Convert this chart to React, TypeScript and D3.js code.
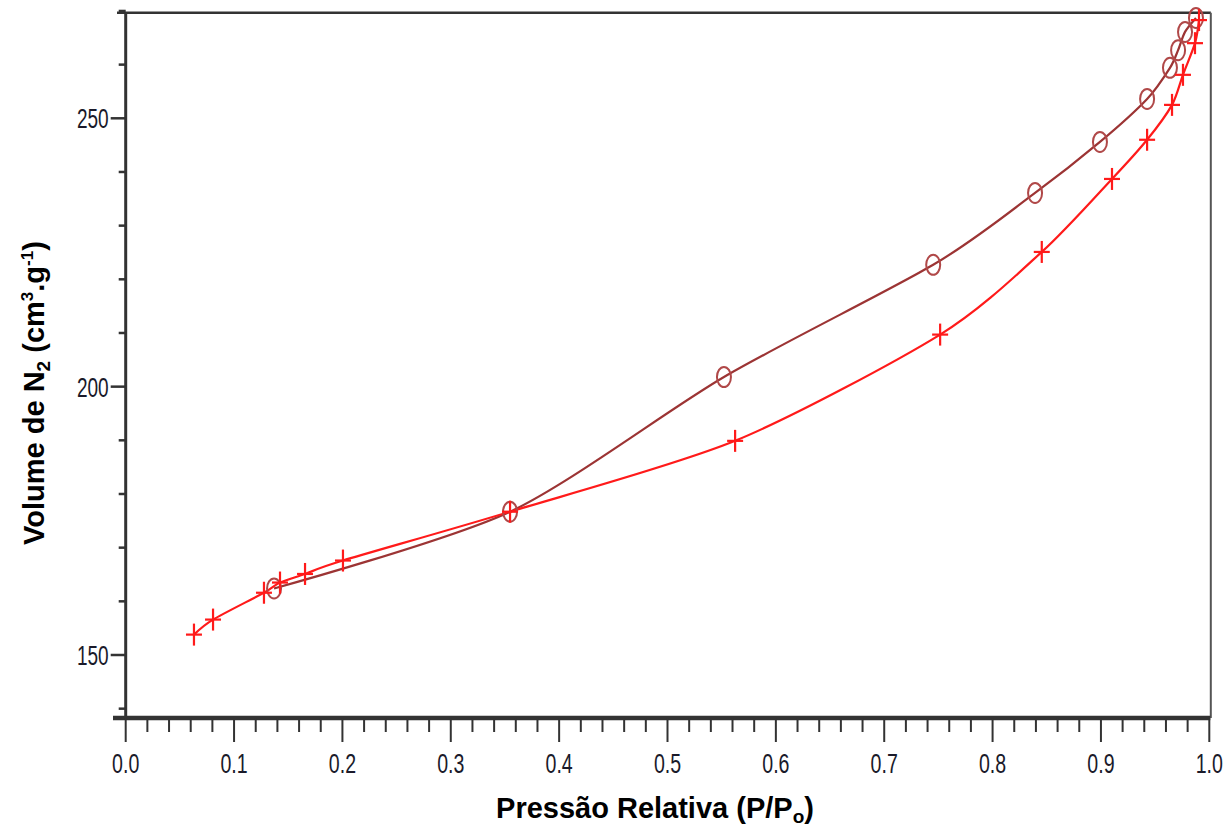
import React from "react";
import * as d3 from "d3";

// Relative pressure (P/Po) and adsorbed N2 volume (cm3/g)
const adsorptionP = [0.063, 0.0806, 0.1276, 0.1424, 0.1655, 0.2005, 0.3547, 0.5624, 0.7516, 0.8454, 0.9102, 0.9426, 0.9656, 0.9757, 0.9868, 0.9905];
const adsorptionV = [153.8, 156.6, 161.6, 163.5, 165.1, 167.6, 176.7, 189.9, 209.7, 225.1, 238.7, 246.0, 252.5, 258.1, 264.0, 268.3];

const desorptionP = [0.9877, 0.9776, 0.9712, 0.9637, 0.9426, 0.8991, 0.8392, 0.7452, 0.5521, 0.3547, 0.1369];
const desorptionV = [268.7, 266.1, 262.7, 259.4, 253.6, 245.6, 236.1, 222.7, 201.8, 176.7, 162.4];

const xMajorTicks = [0, 0.1, 0.2, 0.3, 0.4, 0.5, 0.6, 0.7, 0.8, 0.9, 1.0];
const yMajorTicks = [150, 200, 250];
const yMinorTicks = [140, 160, 170, 180, 190, 210, 220, 230, 240, 260, 270];

const W = 1231;
const H = 830;
const LEFT = 125.7;
const RIGHT = 1209.3;
const TOP = 12.7;
const BOTTOM = 718;

const RED = "#ff1a1a";
const BROWN_LINE = "#9c3434";
const BROWN_MARK = "#b04848";
const AXIS = "#333333";
const TICK_FONT = "'Liberation Sans', Arial, sans-serif";

export default function App() {
  const x = d3.scaleLinear().domain([0, 1]).range([LEFT, RIGHT]);
  const y = d3.scaleLinear().domain([150, 250]).range([655, 118.3]);

  const ads = adsorptionP.map((p, i) => [p, adsorptionV[i]] as [number, number]);
  const des = desorptionP.map((p, i) => [p, desorptionV[i]] as [number, number]);

  const line = d3
    .line<[number, number]>()
    .x((d) => x(d[0]))
    .y((d) => y(d[1]))
    .curve(d3.curveCardinal.tension(0.2));

  const byP = (pts: [number, number][]) => [...pts].sort((a, b) => a[0] - b[0]);

  const xMinor = d3.range(0, 51).map((i) => i / 50).filter((v) => Math.round(v * 50) % 5 !== 0);

  return (
    <svg
      width={W}
      height={H}
      viewBox={`0 0 ${W} ${H}`}
      style={{ position: "absolute", left: 0, top: 0, background: "#ffffff" }}
    >
      <rect x={0} y={0} width={W} height={H} fill="#ffffff" />

      {/* frame */}
      <line x1={117} x2={RIGHT + 1.5} y1={TOP} y2={TOP} stroke={AXIS} strokeWidth={2.5} />
      <line x1={RIGHT + 1.5} x2={RIGHT + 1.5} y1={TOP} y2={BOTTOM} stroke="#555" strokeWidth={2} />

      {/* y axis */}
      <line x1={LEFT} x2={LEFT} y1={TOP} y2={BOTTOM} stroke={AXIS} strokeWidth={3} />
      {yMajorTicks.map((v) => (
        <g key={`ym${v}`}>
          <line x1={LEFT - 15} x2={LEFT} y1={y(v)} y2={y(v)} stroke={AXIS} strokeWidth={2.5} />
          <text
            transform={`translate(${LEFT - 17},${y(v) + 10}) scale(0.68,1)`}
            textAnchor="end"
            fontFamily={TICK_FONT}
            fontSize={28}
            fill="#1a1a2a"
          >
            {v}
          </text>
        </g>
      ))}
      {yMinorTicks.map((v) => (
        <line key={`yn${v}`} x1={LEFT - 7} x2={LEFT} y1={y(v)} y2={y(v)} stroke={AXIS} strokeWidth={2.5} />
      ))}

      {/* x axis */}
      <line x1={113} x2={RIGHT + 1} y1={BOTTOM} y2={BOTTOM} stroke={AXIS} strokeWidth={4.5} />
      {xMinor.map((v) => (
        <line key={`xn${v}`} x1={x(v)} x2={x(v)} y1={BOTTOM} y2={BOTTOM + 14} stroke={AXIS} strokeWidth={2} />
      ))}
      {xMajorTicks.map((v) => (
        <g key={`xm${v}`}>
          <line x1={x(v)} x2={x(v)} y1={BOTTOM} y2={BOTTOM + 24} stroke={AXIS} strokeWidth={2} />
          <text
            transform={`translate(${x(v)},${BOTTOM + 55}) scale(0.7,1)`}
            textAnchor="middle"
            fontFamily={TICK_FONT}
            fontSize={28}
            fill="#1a1a2a"
          >
            {v.toFixed(1)}
          </text>
        </g>
      ))}

      {/* isotherm curves */}
      <path d={line(byP(des)) || ""} fill="none" stroke={BROWN_LINE} strokeWidth={2.2} />
      <path d={line(byP(ads)) || ""} fill="none" stroke={RED} strokeWidth={2.2} />

      {/* desorption markers */}
      {des.map((d, i) => (
        <ellipse
          key={`c${i}`}
          cx={x(d[0])}
          cy={y(d[1])}
          rx={7}
          ry={10}
          fill="none"
          stroke={BROWN_MARK}
          strokeWidth={2}
        />
      ))}

      {/* adsorption markers */}
      {ads.map((d, i) => {
        const cx = x(d[0]);
        const cy = y(d[1]);
        return (
          <g key={`p${i}`} stroke={RED} strokeWidth={2.2}>
            <line x1={cx - 8} x2={cx + 8} y1={cy} y2={cy} />
            <line x1={cx} x2={cx} y1={cy - 11} y2={cy + 11} />
          </g>
        );
      })}

      {/* axis titles */}
      <text
        x={655}
        y={818}
        textAnchor="middle"
        fontFamily="'Liberation Sans', Arial, sans-serif"
        fontWeight="bold"
        fontSize={29}
        fill="#000"
      >
        Pressão Relativa (P/P
        <tspan fontSize={19} dy={5}>o</tspan>
        <tspan dy={-5}>)</tspan>
      </text>
      <text
        transform="translate(44,393) rotate(-90)"
        textAnchor="middle"
        fontFamily="'Liberation Sans', Arial, sans-serif"
        fontWeight="bold"
        fontSize={29}
        fill="#000"
      >
        Volume de N
        <tspan fontSize={19} dy={6}>2</tspan>
        <tspan dy={-6}> (cm</tspan>
        <tspan fontSize={17} dy={-11}>3</tspan>
        <tspan dy={11}>.g</tspan>
        <tspan fontSize={17} dy={-11}>-1</tspan>
        <tspan dy={11}>)</tspan>
      </text>
    </svg>
  );
}
